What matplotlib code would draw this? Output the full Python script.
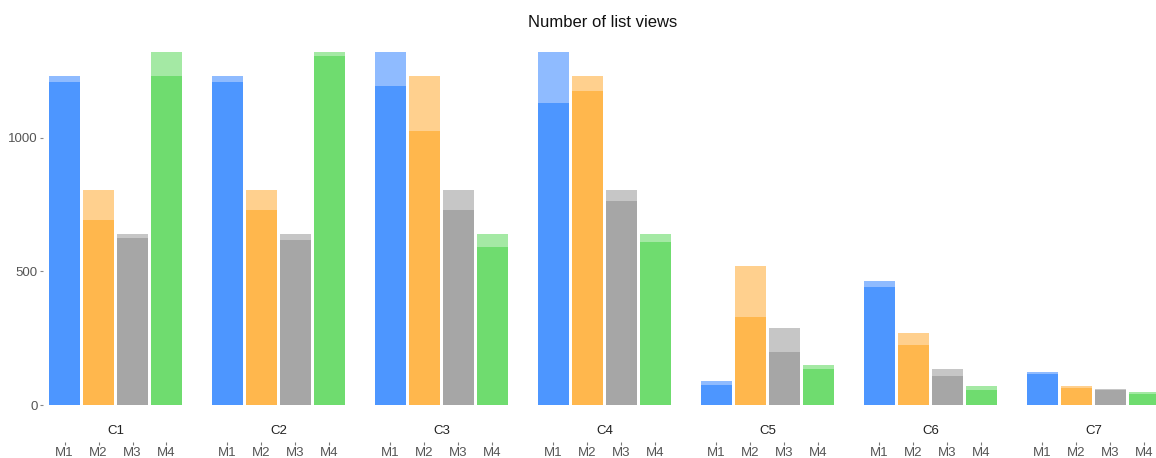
import matplotlib
matplotlib.use("Agg")
import matplotlib.pyplot as plt
import numpy as np

plt.rcParams['font.family'] = ['Liberation Sans', 'DejaVu Sans']

categories = ["C1", "C2", "C3", "C4", "C5", "C6", "C7"]
measures = ["M1", "M2", "M3", "M4"]

# total (light) values per measure across categories
total_M1 = [1231, 1231, 1321, 1321, 90, 464, 123]
total_M2 = [804, 804, 1231, 1231, 520, 269, 71]
total_M3 = [640, 640, 804, 804, 288, 135, 60]
total_M4 = [1321, 1321, 640, 640, 150, 71, 49]
# partial (dark) values
part_M1 = [1208, 1208, 1193, 1130, 75, 441, 116]
part_M2 = [692, 729, 1025, 1175, 329, 224, 64]
part_M3 = [625, 617, 729, 763, 198, 108, 56]
part_M4 = [1231, 1306, 591, 610, 135, 56, 41]

totals = [total_M1, total_M2, total_M3, total_M4]
parts = [part_M1, part_M2, part_M3, part_M4]

dark_colors = ["#4D96FF", "#FFB74D", "#A6A6A6", "#6FDC6F"]
light_colors = ["#8FBBFF", "#FFD08E", "#C6C6C6", "#A4E9A4"]

W, H = 1156, 458
fig = plt.figure(figsize=(W / 100, H / 100), dpi=100)
ax = fig.add_axes([49 / W, (H - 405) / H, (W - 49) / W, (405 - 52) / H])

G = 163 / 34.0
bw = 31 / 34.0
n_cat = len(categories)
xs_all = []
labels_all = []
for j in range(4):
    xs = np.arange(n_cat) * G + j
    ax.bar(xs, totals[j], width=bw, color=light_colors[j], linewidth=0, zorder=1)
    ax.bar(xs, parts[j], width=bw, color=dark_colors[j], linewidth=0, zorder=2)
    xs_all.extend(xs)
    labels_all.extend([measures[j]] * n_cat)

ax.set_xlim(-bw / 2, -bw / 2 + (W - 49) / 34.0)
ax.set_ylim(0, 1321)

for s in ax.spines.values():
    s.set_visible(False)

ax.set_yticks([0, 500, 1000])
ax.set_yticklabels(["0", "500", "1000"])
ax.spines['left'].set_position(('outward', 4))
ax.tick_params(axis='y', length=2.5, width=0.8, color="#888888", pad=1.5,
               labelsize=9.5, labelcolor="#555555")

ax.set_xticks(xs_all)
ax.set_xticklabels(labels_all)
ax.spines['bottom'].set_position(('outward', 26.5))
ax.tick_params(axis='x', length=2.5, width=0.8, color="#777777", pad=1.0,
               labelsize=9.5, labelcolor="#555555")

sec = ax.secondary_xaxis(location=-0.058)
sec.set_xticks(np.arange(n_cat) * G + 1.5)
sec.set_xticklabels(categories)
sec.tick_params(axis='x', length=0, pad=0, labelsize=9.5, labelcolor="#222222")
for s in sec.spines.values():
    s.set_visible(False)

fig.text((49 + W) / 2 / W, 1 - 22.5 / H, "Number of list views", ha="center",
         va="center", fontsize=12, color="#111111")

fig.savefig("out.png", dpi=100)
